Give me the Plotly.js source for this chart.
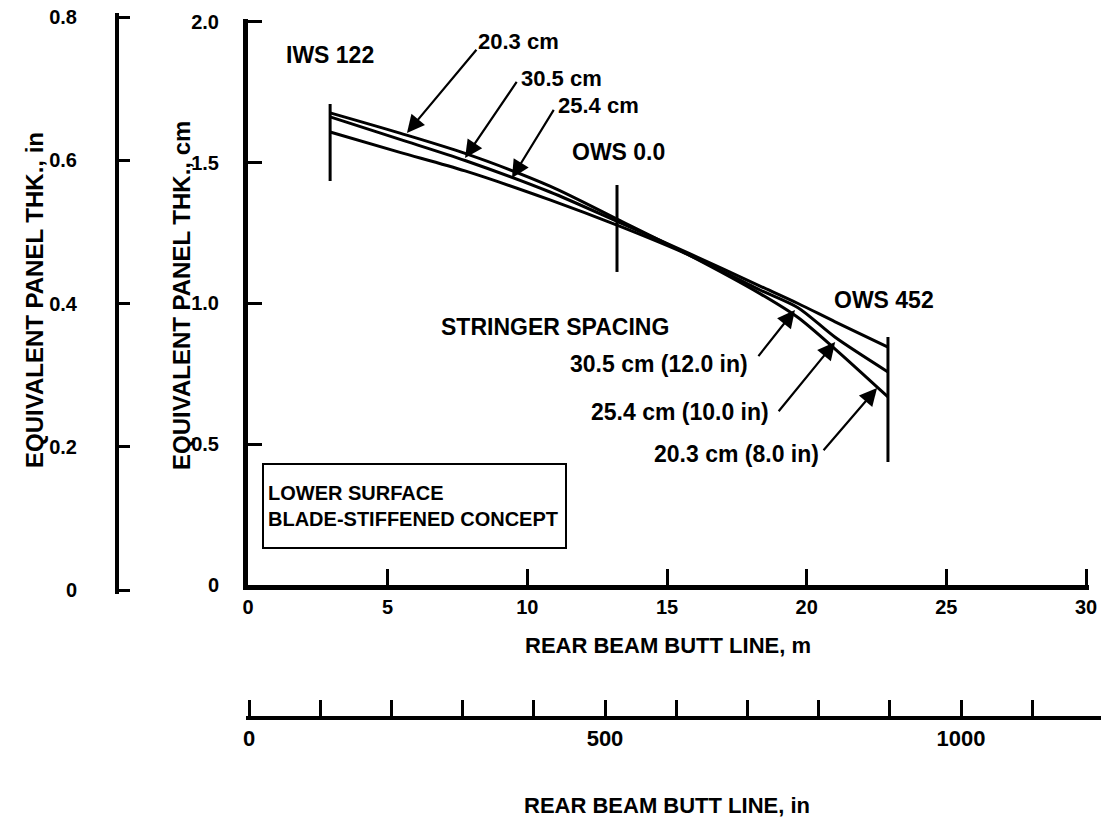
<!DOCTYPE html>
<html>
<head>
<meta charset="utf-8">
<script src="https://cdn.plot.ly/plotly-3.0.1.min.js"></script>
<style>html,body{margin:0;padding:0;background:#fff;}#chart{width:1101px;height:821px;}</style>
</head>
<body>
<div id="chart"></div>
<script>
// ---- data ----
const buttLineM = [2.94, 5.44, 7.77, 10.81, 13.21, 15.83, 18.33, 19.69, 21.02, 22.91];
const thk203cm = [1.677, 1.605, 1.533, 1.417, 1.300, 1.170, 1.035, 0.950, 0.838, 0.668];
const thk305cm = [1.663, 1.583, 1.508, 1.396, 1.292, 1.176, 1.062, 1.000, 0.935, 0.845];
const thk254cm = [1.609, 1.537, 1.471, 1.368, 1.278, 1.170, 1.048, 0.985, 0.880, 0.757];

const stationNames = ['IWS 122', 'OWS 0.0', 'OWS 452'];
const stationX = [2.94, 13.21, 22.91];
const stationLow = [1.435, 1.112, 0.437];
const stationHigh = [1.709, 1.421, 0.881];

const xTicksM = [0, 5, 10, 15, 20, 25, 30];
const yTicksCm = [0, 0.5, 1.0, 1.5, 2.0];
const yTickTextCm = ['0', '0.5', '1.0', '1.5', '2.0'];
const yTicksIn = [0, 0.2, 0.4, 0.6, 0.8];
const yTickTextIn = ['0', '0.2', '0.4', '0.6', '0.8'];
const xTicksIn = [0, 100, 200, 300, 400, 500, 600, 700, 800, 900, 1000, 1100];
const xTickTextIn = ['0', '', '', '', '', '500', '', '', '', '', '1000', ''];

// ---- styling ----
const F = 'Liberation Sans, Arial, Helvetica, sans-serif';
const K = '#000';
const W = 1101, H = 821;
const px = v => v / W, py = v => 1 - v / H;

const curve = (y, name) => ({
  x: buttLineM, y: y, type: 'scatter', mode: 'lines', name: name,
  line: {color: K, width: 3, shape: 'spline', smoothing: 0.8}, showlegend: false, hoverinfo: 'skip'
});

const sx = [], sy = [];
stationX.forEach((x, i) => { sx.push(x, x, null); sy.push(stationLow[i], stationHigh[i], null); });

const traces = [
  curve(thk203cm, '20.3 cm'),
  curve(thk305cm, '30.5 cm'),
  curve(thk254cm, '25.4 cm'),
  {x: sx, y: sy, type: 'scatter', mode: 'lines', line: {color: K, width: 3}, showlegend: false, hoverinfo: 'skip'},
  {x: [], y: [], xaxis: 'x2', yaxis: 'y2', type: 'scatter', mode: 'lines', showlegend: false, hoverinfo: 'skip'}
];

const txt = (x, y, text, size) => ({
  x: x, y: y, xref: 'x', yref: 'y', text: text, showarrow: false,
  xanchor: 'center', yanchor: 'middle',
  font: {family: F, size: size || 22, color: K, weight: 'bold'}
});

const arrow = (x, y, ax, ay) => ({
  x: x, y: y, xref: 'x', yref: 'y', ax: ax, ay: ay, text: ' ', showarrow: true,
  arrowhead: 2, arrowsize: 1.6, arrowwidth: 2.2, arrowcolor: K, standoff: 0, startstandoff: 0,
  font: {size: 1}
});

const ptxt = (x, y, text, size, angle) => ({
  xref: 'paper', yref: 'paper', x: px(x), y: py(y), xanchor: 'center', yanchor: 'middle',
  textangle: angle || 0, showarrow: false, text: text,
  font: {family: F, size: size, color: K, weight: 'bold'}
});

const annotations = [
  txt(stationX[0], 1.883, stationNames[0], 23),
  txt(stationX[1] + 0.05, 1.538, stationNames[1], 23),
  txt(stationX[2] - 0.15, 1.012, stationNames[2], 23),
  txt(10.99, 0.917, 'STRINGER SPACING', 23),
  txt(9.67, 1.929, '20.3 cm'),
  txt(11.21, 1.801, '30.5 cm'),
  txt(12.55, 1.705, '25.4 cm'),
  txt(14.72, 0.785, '30.5 cm (12.0 in)', 23),
  txt(15.47, 0.615, '25.4 cm (10.0 in)', 23),
  txt(17.47, 0.465, '20.3 cm (8.0 in)', 23),
  arrow(5.69, 1.606, 71, -85),
  arrow(7.77, 1.517, 53, -78),
  arrow(9.45, 1.446, 43, -70),
  arrow(19.58, 0.977, -38, 48),
  arrow(21.02, 0.863, -58, 71),
  arrow(22.52, 0.700, -55, 64),
  {xref: 'paper', yref: 'paper', x: px(262), y: py(463), xanchor: 'left', yanchor: 'top',
   text: 'LOWER SURFACE<br>BLADE-STIFFENED CONCEPT', align: 'left', showarrow: false,
   bordercolor: K, borderwidth: 2, borderpad: 4, width: 293, height: 74, valign: 'middle',
   font: {family: F, size: 20, color: K, weight: 'bold'}},
  ptxt(34, 300, 'EQUIVALENT PANEL THK., in', 24, -90),
  ptxt(181, 296, 'EQUIVALENT PANEL THK., cm', 24, -90),
  ptxt(668, 645, 'REAR BEAM BUTT LINE, m', 22),
  ptxt(667, 805, 'REAR BEAM BUTT LINE, in', 22)
];

// small range extensions keep the end ticks (Plotly drops inside ticks lying on the range ends)
const layout = {
  width: W, height: H,
  margin: {l: 0, r: 0, t: 0, b: 0, pad: 0},
  paper_bgcolor: '#fff', plot_bgcolor: 'rgba(0,0,0,0)',
  showlegend: false,
  xaxis: {
    domain: [px(248), px(1088.8)], range: [0, 30.1], anchor: 'y',
    showline: true, linecolor: K, linewidth: 5, showgrid: false, zeroline: false,
    ticks: 'inside', ticklen: 16, tickwidth: 3, tickcolor: K,
    tickvals: xTicksM, ticktext: xTicksM.map(String),
    tickfont: {family: F, size: 20, color: K, weight: 'bold'}, fixedrange: true
  },
  yaxis: {
    domain: [py(585), py(18.6)], range: [0, 2.012], anchor: 'x', side: 'left',
    showline: true, linecolor: K, linewidth: 5, showgrid: false, zeroline: false,
    ticks: 'inside', ticklen: 14, tickwidth: 3, tickcolor: K,
    tickvals: yTicksCm, ticktext: yTickTextCm, ticklabelstandoff: 20,
    tickfont: {family: F, size: 20, color: K, weight: 'bold'}, fixedrange: true
  },
  xaxis2: {
    domain: [px(246.15), 1], range: [-4, (W - 249) / 0.712], anchor: 'free', position: py(718),
    showline: true, linecolor: K, linewidth: 4, showgrid: false, zeroline: false,
    ticks: 'inside', ticklen: 16, tickwidth: 3, tickcolor: K,
    tickvals: xTicksIn, ticktext: xTickTextIn,
    tickfont: {family: F, size: 22, color: K, weight: 'bold'}, fixedrange: true
  },
  yaxis2: {
    domain: [py(594.3), py(12.7)], range: [-0.006, 0.806], anchor: 'free', position: px(117), side: 'left',
    showline: true, linecolor: K, linewidth: 4, showgrid: false, zeroline: false,
    ticks: 'inside', ticklen: 11, tickwidth: 3, tickcolor: K,
    tickvals: yTicksIn, ticktext: yTickTextIn, ticklabelstandoff: 34,
    tickfont: {family: F, size: 20, color: K, weight: 'bold'}, fixedrange: true
  },
  annotations: annotations
};

Plotly.newPlot('chart', traces, layout, {displayModeBar: false, staticPlot: true});
</script>
</body>
</html>
